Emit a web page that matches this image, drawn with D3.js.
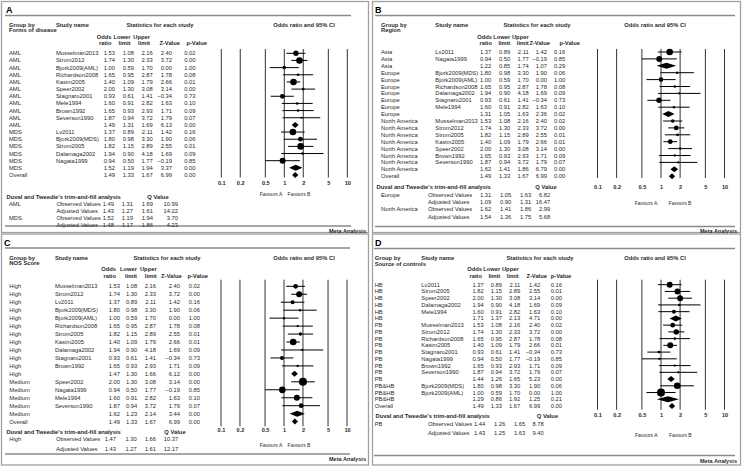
<!DOCTYPE html>
<html><head><meta charset="utf-8">
<script src="https://cdn.jsdelivr.net/npm/d3@7"></script>
<style>body{margin:0;background:#fff}svg{display:block}text{font-family:"Liberation Sans",Arial,sans-serif}</style>
</head><body><svg id="c" width="742" height="467"></svg>
<script>
// ---------- shared ----------
const axisTicks = [0.1, 0.2, 0.5, 1, 2, 5, 10];
const axisTickLabels = ["0.1", "0.2", "0.5", "1", "2", "5", "10"];

// ---------- Panel A: Forms of disease ----------
const aGroup = ["AML","AML","AML","AML","AML","AML","AML","AML","AML","AML","AML","MDS","MDS","MDS","MDS","MDS","MDS","Overall"];
const aStudy = ["Musselman2013","Strom2012","Bjork2009(AML)","Richardson2008","Kasim2005","Speer2002","Stagnaro2001","Mele1994","Brown1992","Severson1990","","Lv2011","Bjork2009(MDS)","Strom2005","Dalamaga2002","Nagata1999","",""];
const aOR    = [1.53,1.74,1.00,1.65,1.40,2.00,0.93,1.60,1.65,1.87,1.49,1.37,1.80,1.82,1.94,0.94,1.52,1.49];
const aLower = [1.08,1.30,0.59,0.95,1.09,1.30,0.61,0.91,0.93,0.94,1.31,0.89,0.98,1.15,0.90,0.50,1.19,1.33];
const aUpper = [2.16,2.33,1.70,2.87,1.79,3.08,1.41,2.82,2.93,3.72,1.69,2.11,3.30,2.89,4.18,1.77,1.94,1.67];
const aZ     = [2.40,3.72,0.00,1.78,2.66,3.14,-0.34,1.63,1.71,1.79,6.13,1.42,1.90,2.55,1.69,-0.19,3.37,6.99];
const aP     = [0.02,0.00,1.00,0.08,0.01,0.00,0.73,0.10,0.09,0.07,0.00,0.16,0.06,0.01,0.09,0.85,0.00,0.00];
const aWeight= [4.5,6.8,2,1,6.8,1.2,3.5,1,1,0.7,0,6.8,3.5,6.8,1,5.6,0,0];
const aTrimGroup = ["AML","","MDS",""];
const aTrimLabel = ["Observed Values","Adjusted Values","Observed Values","Adjusted Values"];
const aTrimOR    = [1.49,1.43,1.52,1.48];
const aTrimLower = [1.31,1.27,1.19,1.17];
const aTrimUpper = [1.69,1.61,1.94,1.86];
const aTrimQ     = [10.99,14.22,3.70,4.23];

// ---------- Panel B: Region ----------
const bGroup = ["Asia","Asia","Asia","Europe","Europe","Europe","Europe","Europe","Europe","Europe","North America","North America","North America","North America","North America","North America","North America","North America","Overall"];
const bStudy = ["Lv2011","Nagata1999","","Bjork2009(MDS)","Bjork2009(AML)","Richardson2008","Dalamaga2002","Stagnaro2001","Mele1994","","Musselman2013","Strom2012","Strom2005","Kasim2005","Speer2002","Brown1992","Severson1990","",""];
const bOR    = [1.37,0.94,1.22,1.80,1.00,1.65,1.94,0.93,1.60,1.31,1.53,1.74,1.82,1.40,2.00,1.65,1.87,1.62,1.49];
const bLower = [0.89,0.50,0.85,0.98,0.59,0.95,0.90,0.61,0.91,1.05,1.08,1.30,1.15,1.09,1.30,0.93,0.94,1.41,1.33];
const bUpper = [2.11,1.77,1.74,3.30,1.70,2.87,4.18,1.41,2.82,1.63,2.16,2.33,2.89,1.79,3.08,2.93,3.72,1.86,1.67];
const bZ     = [1.42,-0.19,1.07,1.90,0.00,1.78,1.69,-0.34,1.63,2.36,2.40,3.72,2.55,2.66,3.14,1.71,1.79,6.79,6.99];
const bP     = [0.16,0.85,0.29,0.06,1.00,0.08,0.09,0.73,0.10,0.02,0.02,0.00,0.01,0.01,0.00,0.09,0.07,0.00,0.00];
const bWeight= [6.8,5.6,0,1,3.5,1,0.8,4.5,1,0,2,3.5,1.2,3.5,1,0.8,0.7,0,0];
const bTrimGroup = ["Europe","","North America",""];
const bTrimLabel = ["Observed Values","Adjusted Values","Observed Values","Adjusted Values"];
const bTrimOR    = [1.31,1.09,1.62,1.54];
const bTrimLower = [1.05,0.90,1.41,1.36];
const bTrimUpper = [1.63,1.31,1.86,1.75];
const bTrimQ     = [6.82,16.47,2.99,5.68];

// ---------- Panel C: NOS Score ----------
const cGroup = ["High","High","High","High","High","High","High","High","High","High","High","High","Medium","Medium","Medium","Medium","Medium","Overall"];
const cStudy = ["Musselman2013","Strom2012","Lv2011","Bjork2009(MDS)","Bjork2009(AML)","Richardson2008","Strom2005","Kasim2005","Dalamaga2002","Stagnaro2001","Brown1992","","Speer2002","Nagata1999","Mele1994","Severson1990","",""];
const cOR    = [1.53,1.74,1.37,1.80,1.00,1.65,1.82,1.40,1.94,0.93,1.65,1.47,2.00,0.94,1.60,1.87,1.62,1.49];
const cLower = [1.08,1.30,0.89,0.98,0.59,0.95,1.15,1.09,0.90,0.61,0.93,1.30,1.30,0.50,0.91,0.94,1.23,1.33];
const cUpper = [2.16,2.33,2.11,3.30,1.70,2.87,2.89,1.79,4.18,1.41,2.93,1.66,3.08,1.77,2.82,3.72,2.14,1.67];
const cZ     = [2.40,3.72,1.42,1.90,0.00,1.78,2.55,2.66,1.69,-0.34,1.71,6.12,3.14,-0.19,1.63,1.79,3.44,6.99];
const cP     = [0.02,0.00,0.16,0.06,1.00,0.08,0.01,0.01,0.09,0.73,0.09,0.00,0.00,0.85,0.10,0.07,0.00,0.00];
const cWeight= [3.5,5.6,2.5,1,1,0.8,1.8,6.8,0.8,2.5,0.8,0,10,7,5.6,3.5,0,0];
const cTrimGroup = ["High",""];
const cTrimLabel = ["Observed Values","Adjusted Values"];
const cTrimOR    = [1.47,1.43];
const cTrimLower = [1.30,1.27];
const cTrimUpper = [1.66,1.61];
const cTrimQ     = [10.37,12.17];

// ---------- Panel D: Source of controls ----------
const dGroup = ["HB","HB","HB","HB","HB","HB","PB","PB","PB","PB","PB","PB","PB","PB","PB","PB&HB","PB&HB","PB&HB","Overall"];
const dStudy = ["Lv2011","Strom2005","Speer2002","Dalamaga2002","Mele1994","","Musselman2013","Strom2012","Richardson2008","Kasim2005","Stagnaro2001","Nagata1999","Brown1992","Severson1990","","Bjork2009(MDS)","Bjork2009(AML)","",""];
const dOR    = [1.37,1.82,2.00,1.94,1.60,1.71,1.53,1.74,1.65,1.40,0.93,0.94,1.65,1.87,1.44,1.80,1.00,1.29,1.49];
const dLower = [0.89,1.15,1.30,0.90,0.91,1.37,1.08,1.30,0.95,1.09,0.61,0.50,0.93,0.94,1.26,0.98,0.59,0.86,1.33];
const dUpper = [2.11,2.89,3.08,4.18,2.82,2.13,2.16,2.33,2.87,1.79,1.41,1.77,2.93,3.72,1.65,3.30,1.70,1.92,1.67];
const dZ     = [1.42,2.55,3.14,1.69,1.63,4.71,2.40,3.72,1.78,2.66,-0.34,-0.19,1.71,1.79,5.23,1.90,0.00,1.25,6.99];
const dP     = [0.16,0.01,0.00,0.09,0.10,0.00,0.02,0.00,0.08,0.01,0.73,0.85,0.09,0.07,0.00,0.06,1.00,0.21,0.00];
const dWeight= [5.6,5.6,5.6,1,2.5,0,3.5,4.5,1,5.6,1.2,0.8,0.8,0.8,0,6.8,10,0,0];
const dTrimGroup = ["PB",""];
const dTrimLabel = ["Observed Values","Adjusted Values"];
const dTrimOR    = [1.44,1.43];
const dTrimLower = [1.26,1.25];
const dTrimUpper = [1.65,1.63];
const dTrimQ     = [8.78,9.40];

// ---------- layout (positions only) ----------
const layouts = [
 {letter:"A", groupBy:"Forms of disease", fx1:1.5, fy1:1.5, fx2:368.5, fy2:232.5,
  lx:6, ly:10, tl:15.5, tlx1:5, tlx2:351, h1:24.5, h2:29.5, s1:37, s2:43,
  cGroup:9, cStudy:56, cols:[115,134,152.7,172,195.5], hcols:[111.5,130.5,150,180,207], stats:160,
  row0:53.3, step:7.16, x1:284.3, dec:63, ptitle:304, vTop:49, vBot:177.5,
  tickY:184, favY:194, favA:271, favB:299,
  trimHdr:197, qx:158, trim0:204, trimStep:7.1, tcols:[114,133,153,178], tLabel:56.5,
  botLine:226, metaY:230.5, metaX:366},
 {letter:"B", groupBy:"Region", fx1:372.5, fy1:1.5, fx2:740.5, fy2:232.5,
  lx:375, ly:10, tl:15.5, tlx1:375, tlx2:735, h1:24.5, h2:29.5, s1:37, s2:43,
  cGroup:381, cStudy:435.3, cols:[491.3,510.3,528.7,547,565.3], hcols:[492,510.3,528.7,550,580], stats:537,
  row0:52, step:6.9, x1:661, dec:63.5, ptitle:655, vTop:49, vBot:178,
  tickY:188, favY:203, favA:646, favB:680,
  trimHdr:186.7, qx:546, trim0:195, trimStep:7.2, tcols:[491.3,511.3,531.3,550.3], tLabel:428,
  botLine:226.5, metaY:231, metaX:737},
 {letter:"C", groupBy:"NOS Score", fx1:1.5, fy1:234, fx2:368.5, fy2:465,
  lx:4, ly:243, tl:248, tlx1:5, tlx2:350, h1:258, h2:263, s1:269, s2:275.7,
  cGroup:9.3, cStudy:55, cols:[120,137.3,156,180,200], hcols:[116,137,156.7,181.7,208], stats:167,
  row0:286.3, step:7.96, x1:284, dec:63, ptitle:304, vTop:279.7, vBot:426.3,
  tickY:431.3, favY:444.7, favA:271, favB:299,
  trimHdr:432.3, qx:175, trim0:439, trimStep:10, tcols:[116,136.7,156,178.3], tLabel:56,
  botLine:454, metaY:459, metaX:366},
 {letter:"D", groupBy:"Source of controls", fx1:372.5, fy1:234, fx2:740.5, fy2:465,
  lx:375, ly:243, tl:248.5, tlx1:374, tlx2:735, h1:258, h2:263.7, s1:269, s2:276,
  cGroup:374.7, cStudy:421.3, cols:[483.7,502,520.3,540.3,562], hcols:[482,500.3,518.7,547,571.3], stats:540,
  row0:284.7, step:6.74, x1:661, dec:63.5, ptitle:655, vTop:279.7, vBot:409.7,
  tickY:416.3, favY:434.7, favA:646.3, favB:680.3,
  trimHdr:415.7, qx:547.5, trim0:424, trimStep:9.3, tcols:[485.3,505.3,525.3,543.7], tLabel:428,
  botLine:455.5, metaY:460.5, metaX:737}
];

const panelData = [
 {group:aGroup, study:aStudy, or:aOR, lo:aLower, hi:aUpper, z:aZ, p:aP, w:aWeight,
  tg:aTrimGroup, tl:aTrimLabel, tor:aTrimOR, tlo:aTrimLower, thi:aTrimUpper, tq:aTrimQ},
 {group:bGroup, study:bStudy, or:bOR, lo:bLower, hi:bUpper, z:bZ, p:bP, w:bWeight,
  tg:bTrimGroup, tl:bTrimLabel, tor:bTrimOR, tlo:bTrimLower, thi:bTrimUpper, tq:bTrimQ},
 {group:cGroup, study:cStudy, or:cOR, lo:cLower, hi:cUpper, z:cZ, p:cP, w:cWeight,
  tg:cTrimGroup, tl:cTrimLabel, tor:cTrimOR, tlo:cTrimLower, thi:cTrimUpper, tq:cTrimQ},
 {group:dGroup, study:dStudy, or:dOR, lo:dLower, hi:dUpper, z:dZ, p:dP, w:dWeight,
  tg:dTrimGroup, tl:dTrimLabel, tor:dTrimOR, tlo:dTrimLower, thi:dTrimUpper, tq:dTrimQ}
];

const svg = d3.select("#c");
const FS = 5.8;
const f2 = d3.format(".2f");
const rScale = d3.scaleSqrt().domain([0, 10]).range([0, 4]);

function txt(g, x, y, s, opt = {}) {
  return g.append("text").attr("x", x).attr("y", y).text(s)
    .attr("font-size", opt.size || FS)
    .attr("font-weight", opt.bold ? "bold" : null)
    .attr("text-anchor", opt.anchor || "start")
    .attr("dominant-baseline", "central")
    .attr("fill", opt.fill || "#2a2a2a");
}

layouts.forEach((L, k) => {
  const D = panelData[k];
  const g = svg.append("g");
  g.append("rect").attr("x", L.fx1).attr("y", L.fy1)
    .attr("width", L.fx2 - L.fx1).attr("height", L.fy2 - L.fy1)
    .attr("fill", "none").attr("stroke", "#a0a0a0").attr("stroke-width", 1.3);
  txt(g, L.lx, L.ly, L.letter, {size: 9, bold: true, fill: "#000"});
  g.append("line").attr("x1", L.tlx1).attr("x2", L.tlx2).attr("y1", L.tl).attr("y2", L.tl)
    .attr("stroke", "#8a8a8a").attr("stroke-width", 1.3);
  g.append("line").attr("x1", L.tlx1).attr("x2", L.tlx2).attr("y1", L.botLine).attr("y2", L.botLine)
    .attr("stroke", "#8a8a8a").attr("stroke-width", 1.3);
  txt(g, L.metaX, L.metaY, "Meta Analysis", {bold: true, anchor: "end", size: 5.6});

  txt(g, L.cGroup, L.h1, "Group by", {bold: true});
  txt(g, L.cGroup, L.h2, L.groupBy, {bold: true});
  txt(g, L.cStudy, L.h1, "Study name", {bold: true});
  txt(g, L.stats, L.h1, "Statistics for each study", {bold: true, anchor: "middle"});
  const hTop = ["Odds", "Lower", "Upper", "", ""];
  const hBot = ["ratio", "limit", "limit", "Z-Value", "p-Value"];
  L.hcols.forEach((cx, i) => {
    if (hTop[i]) txt(g, cx, L.s1, hTop[i], {bold: true, anchor: "end"});
    txt(g, cx, L.s2, hBot[i], {bold: true, anchor: "end"});
  });
  txt(g, L.ptitle, L.h1, "Odds ratio and 95% CI", {bold: true, anchor: "middle"});

  const x = d3.scaleLog().domain([0.1, 10]).range([L.x1 - L.dec, L.x1 + L.dec]);
  const n = D.or.length;
  const y = d3.scaleLinear().domain([0, n - 1]).range([L.row0, L.row0 + (n - 1) * L.step]);

  g.selectAll(".vl").data(axisTicks).enter().append("line")
    .attr("x1", d => x(d)).attr("x2", d => x(d))
    .attr("y1", L.vTop).attr("y2", L.vBot)
    .attr("stroke", "#333").attr("stroke-width", 1);
  const ax = d3.axisBottom(x).tickValues(axisTicks)
    .tickFormat((d, i) => axisTickLabels[i]).tickSize(0).tickPadding(0);
  const axg = g.append("g").attr("transform", `translate(0,${L.tickY - 3})`).call(ax);
  axg.select(".domain").remove();
  axg.selectAll("text").attr("font-size", 5.6).attr("font-weight", "bold")
    .attr("fill", "#2a2a2a").attr("font-family", '"Liberation Sans",Arial,sans-serif');
  txt(g, L.favA, L.favY, "Favours A", {anchor: "middle", size: 5});
  txt(g, L.favB, L.favY, "Favours B", {anchor: "middle", size: 5});

  for (let i = 0; i < n; i++) {
    const yy = y(i);
    txt(g, L.cGroup, yy, D.group[i]);
    if (D.study[i]) txt(g, L.cStudy, yy, D.study[i]);
    const vals = [D.or[i], D.lo[i], D.hi[i], D.z[i], D.p[i]];
    vals.forEach((v, j) => txt(g, L.cols[j], yy, f2(v), {anchor: "end"}));
  }

  const rows = d3.range(n);
  const studies = rows.filter(i => D.study[i]);
  const sums = rows.filter(i => !D.study[i]);
  g.selectAll(".ci").data(studies).enter().append("line")
    .attr("x1", i => x(D.lo[i])).attr("x2", i => x(D.hi[i]))
    .attr("y1", i => y(i)).attr("y2", i => y(i))
    .attr("stroke", "#000").attr("stroke-width", 1);
  g.selectAll(".pt").data(studies).enter().append("circle")
    .attr("cx", i => x(D.or[i])).attr("cy", i => y(i))
    .attr("r", i => Math.max(0.9, rScale(D.w[i]))).attr("fill", "#000");
  g.selectAll(".dm").data(sums).enter().append("path")
    .attr("d", i => {
      const yy = y(i), h = 3;
      return `M${x(D.lo[i])},${yy}L${x(D.or[i])},${yy - h}L${x(D.hi[i])},${yy}L${x(D.or[i])},${yy + h}Z`;
    }).attr("fill", "#000");

  txt(g, L.tlx1 + 1.5, L.trimHdr, "Duval and Tweedie's trim-and-fill analysis", {bold: true});
  txt(g, L.qx, L.trimHdr, "Q Value", {bold: true, anchor: "middle"});
  D.tor.forEach((v, i) => {
    const yy = L.trim0 + i * L.trimStep;
    if (D.tg[i]) txt(g, L.cGroup, yy, D.tg[i]);
    txt(g, L.tLabel, yy, D.tl[i]);
    [D.tor[i], D.tlo[i], D.thi[i], D.tq[i]].forEach((val, j) =>
      txt(g, L.tcols[j], yy, f2(val), {anchor: "end"}));
  });
});
</script></body></html>
